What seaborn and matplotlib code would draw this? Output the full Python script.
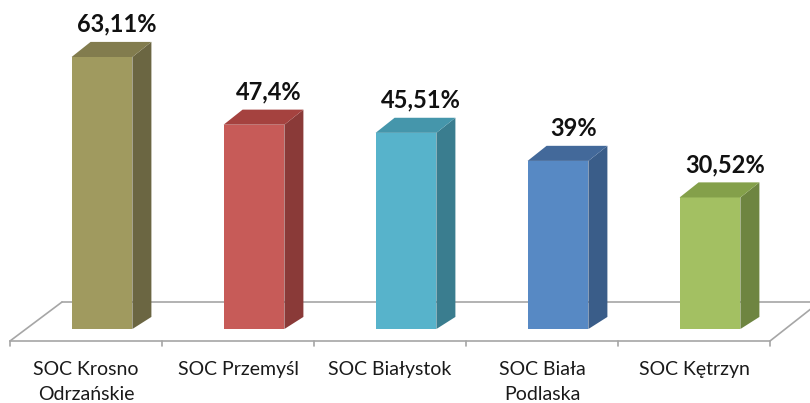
import matplotlib
matplotlib.use("Agg")
import matplotlib.pyplot as plt
import seaborn as sns
import pandas as pd
from matplotlib.patches import Polygon

categories = ["SOC Krosno\nOdrzańskie", "SOC Przemyśl", "SOC Białystok", "SOC Biała\nPodlaska", "SOC Kętrzyn"]
values = [63.11, 47.4, 45.51, 39.0, 30.52]
value_labels = ["63,11%", "47,4%", "45,51%", "39%", "30,52%"]

front_colors = ["#A09A5F", "#C75B58", "#57B3CB", "#5789C4", "#A3C062"]
side_colors = ["#6B6642", "#8A3A38", "#3A7D8F", "#3A5D89", "#6E8541"]
top_colors = ["#827C4E", "#A5423F", "#4596AB", "#43699A", "#84A04A"]

sns.set_theme(style="white")
plt.rcParams["font.family"] = ["Lato", "DejaVu Sans"]

fig = plt.figure(figsize=(8.1, 4.03), dpi=100)
ax = fig.add_axes([0, 0, 1, 1])

df = pd.DataFrame({"cat": categories, "val": values})
sns.barplot(data=df, x="cat", y="val", hue="cat", palette=front_colors,
            width=0.4, legend=False, ax=ax, zorder=3, saturation=1,
            edgecolor="none", linewidth=0)

# pixel mapping: x px = 102 + 152*i ; y px = 329 - 4.31*v
ax.set_xlim((0 - 102) / 152, (810 - 102) / 152)
ax.set_ylim((329 - 403) / 4.31, 329 / 4.31)
ax.axis("off")

hw = 0.2
dx = 0.125
dy = 3.5
for i, v in enumerate(values):
    side = Polygon([(i + hw, 0), (i + hw + dx, dy * 0.8), (i + hw + dx, v + dy), (i + hw, v)],
                   closed=True, facecolor=side_colors[i], edgecolor="none", zorder=3)
    top = Polygon([(i - hw, v), (i - hw + dx, v + dy), (i + hw + dx, v + dy), (i + hw, v)],
                  closed=True, facecolor=top_colors[i], edgecolor="none", zorder=3)
    ax.add_patch(side)
    ax.add_patch(top)
    ax.text(i + 0.1, v + dy + 1.4, value_labels[i], ha="center", va="bottom",
            fontsize=17, fontweight="bold", color="#111111", zorder=5)

# floor
gray = "#A6A6A6"
def px(x):
    return (x - 102) / 152
def py(y):
    return (329 - y) / 4.31

ax.plot([px(62), px(810)], [py(302), py(302)], color=gray, lw=1.2, zorder=1)
ax.plot([px(10), px(770)], [py(341), py(341)], color=gray, lw=1.2, zorder=1)
ax.plot([px(10), px(62)], [py(341), py(302)], color=gray, lw=1.2, zorder=1)
ax.plot([px(770), px(812)], [py(341), py(308)], color=gray, lw=1.2, zorder=1)
for k in range(len(categories) + 1):
    xt = k - 0.5 - 0.105
    ax.plot([xt, xt], [py(341), py(346)], color=gray, lw=1.2, zorder=1)

for i, c in enumerate(categories):
    ax.text(i - 0.105, py(361), c, ha="center", va="top", fontsize=14,
            color="#1a1a1a", linespacing=1.6)

fig.savefig("out.png", dpi=100)
